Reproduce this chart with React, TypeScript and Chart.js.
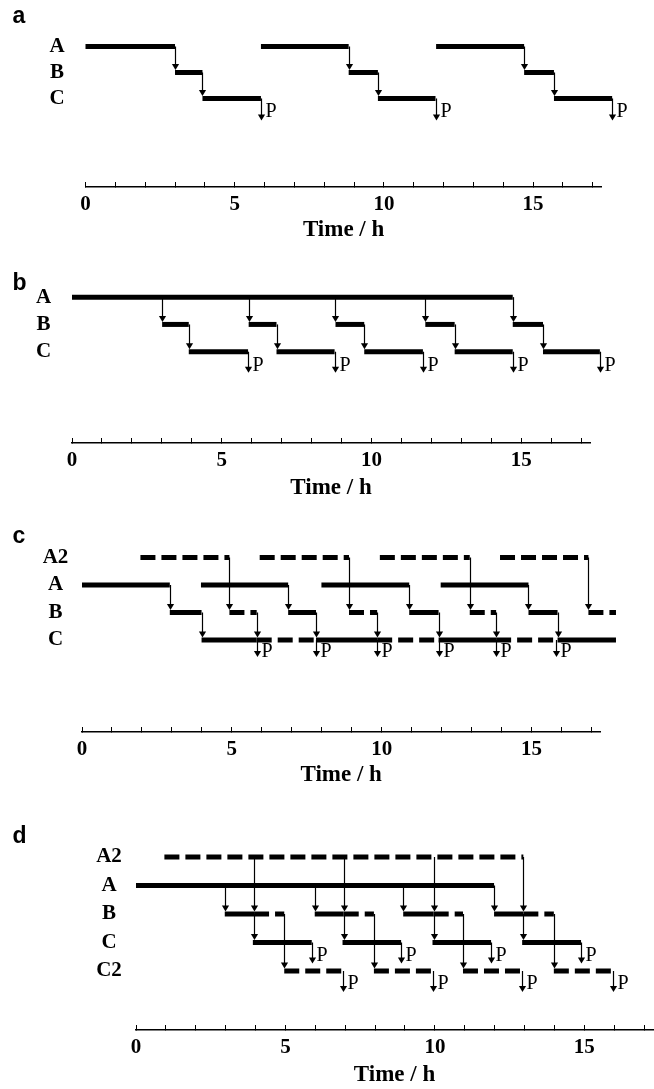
import React, { useEffect, useRef } from 'react';
import { Chart, registerables } from 'chart.js';

Chart.register(...registerables);

// ---------------- data (hours) ----------------
const TIME_TICKS = [0, 1, 2, 3, 4, 5, 6, 7, 8, 9, 10, 11, 12, 13, 14, 15, 16, 17];
const TIME_TICK_LABELS = ['0', '', '', '', '', '5', '', '', '', '', '10', '', '', '', '', '15', '', ''];
const TIME_MAX = 17.3;
const AXIS_TITLE = 'Time / h';

// panel a
const A_ROWS = ['A', 'B', 'C'];
const A_STEP_A = [[0, 3.0], [5.88, 8.82], [11.75, 14.7]];
const A_STEP_B = [[3.0, 3.92], [8.82, 9.8], [14.7, 15.7]];
const A_STEP_C = [[3.92, 5.88], [9.8, 11.73], [15.7, 17.65]];
const A_ARROWS_AB = [3.0, 8.82, 14.7];
const A_ARROWS_BC = [3.92, 9.8, 15.7];
const A_PRODUCT = [5.88, 11.73, 17.65];

// panel b
const B_ROWS = ['A', 'B', 'C'];
const B_STEP_A = [[0, 14.72]];
const B_STEP_B = [[3.01, 3.9], [5.9, 6.83], [8.8, 9.76], [11.8, 12.78], [14.72, 15.73]];
const B_STEP_C = [[3.9, 5.88], [6.83, 8.77], [9.76, 11.72], [12.78, 14.72], [15.73, 17.63]];
const B_ARROWS_AB = [3.01, 5.9, 8.8, 11.8, 14.72];
const B_ARROWS_BC = [3.9, 6.83, 9.76, 12.78, 15.73];
const B_PRODUCT = [5.88, 8.77, 11.72, 14.72, 17.63];

// panel c
const C_ROWS = ['A2', 'A', 'B', 'C'];
const C_STEP_A2 = [[1.95, 4.92], [5.93, 8.91], [9.94, 12.94], [13.95, 16.9]];
const C_STEP_A = [[0, 2.93], [3.97, 6.88], [7.99, 10.92], [11.97, 14.9]];
const C_STEP_B = [[2.93, 3.99], [6.88, 7.81], [10.92, 11.9], [14.9, 15.87]];
const C_STEP_B2 = [[4.92, 5.83], [8.91, 9.85], [12.94, 13.82], [16.9, 17.82]];
const C_STEP_C = [[3.99, 5.83], [7.81, 9.85], [11.9, 13.82], [15.87, 17.82]];
const C_STEP_C2 = [[5.83, 7.81], [9.85, 11.9], [13.82, 15.87]];
const C_ARROWS_AB = [2.93, 6.88, 10.92, 14.9];
const C_ARROWS_A2B = [4.92, 8.91, 12.94, 16.9];
const C_ARROWS_BC = [3.99, 5.83, 7.81, 9.85, 11.9, 13.82, 15.87];
const C_PRODUCT = [5.83, 7.81, 9.85, 11.9, 13.82, 15.82];

// panel d
const D_ROWS = ['A2', 'A', 'B', 'C', 'C2'];
const D_STEP_A2 = [[0.95, 12.96]];
const D_STEP_A = [[0, 11.98]];
const D_STEP_B = [[2.97, 3.95], [5.98, 6.95], [8.94, 9.96], [11.98, 12.96]];
const D_STEP_B2 = [[3.95, 4.96], [6.95, 7.96], [9.96, 10.94], [12.96, 13.98]];
const D_STEP_C = [[3.91, 5.88], [6.91, 8.87], [9.92, 11.88], [12.92, 14.89]];
const D_STEP_C2 = [[4.96, 6.91], [7.96, 9.93], [10.94, 12.92], [13.98, 15.96]];
const D_ARROWS_AB = [2.97, 5.98, 8.94, 11.98];
const D_ARROWS_A2B = [3.95, 6.95, 9.96, 12.96];
const D_ARROWS_BC = [3.95, 6.95, 9.96, 12.96];
const D_ARROWS_BC2 = [4.96, 7.96, 10.94, 13.98];
const D_PRODUCT_C = [5.88, 8.87, 11.88, 14.89];
const D_PRODUCT_C2 = [6.91, 9.93, 12.92, 15.96];

// ---------------- styles / layout ----------------
const SERIF = '"Liberation Serif", "Times New Roman", serif';
const SANS = '"Liberation Sans", Arial, sans-serif';
const BAR_W = 5;
const DASH = [15, 6];
const AXIS_H = 58;
const Y_AXIS_W = 40;
const PAGE_W = 654;
const ROW_FONT = 21;
const TICK_FONT = 21;
const TITLE_FONT = 23;

type Bar = { row: number; segs: number[][]; dashed?: boolean };
type Arrow = { xs: number[]; from: number; to: number };
type Prod = { xs: number[]; row: number };
type Spec = {
  letter: string;
  rows: string[];
  bars: Bar[];
  arrows: Arrow[];
  products: Prod[];
  L: {
    top: number; x0: number; x1: number; lane0: number; gap: number; axisY: number;
    labelPad: number; pTip: number; pText: number; letterTop: number; titleOff: number;
  };
};

const SPECS: Spec[] = [
  {
    letter: 'a',
    rows: A_ROWS,
    bars: [
      { row: 0, segs: A_STEP_A },
      { row: 1, segs: A_STEP_B },
      { row: 2, segs: A_STEP_C },
    ],
    arrows: [
      { xs: A_ARROWS_AB, from: 0, to: 1 },
      { xs: A_ARROWS_BC, from: 1, to: 2 },
    ],
    products: [{ xs: A_PRODUCT, row: 2 }],
    L: { top: 0, x0: 85.5, x1: 601.7, lane0: 41, gap: 27, axisY: 187, labelPad: 20.9, pTip: 22, pText: 13, letterTop: 3.8, titleOff: 43.5 },
  },
  {
    letter: 'b',
    rows: B_ROWS,
    bars: [
      { row: 0, segs: B_STEP_A },
      { row: 1, segs: B_STEP_B },
      { row: 2, segs: B_STEP_C },
    ],
    arrows: [
      { xs: B_ARROWS_AB, from: 0, to: 1 },
      { xs: B_ARROWS_BC, from: 1, to: 2 },
    ],
    products: [{ xs: B_PRODUCT, row: 2 }],
    L: { top: 250, x0: 72, x1: 590, lane0: 296, gap: 27.5, axisY: 443, labelPad: 20.9, pTip: 21, pText: 14, letterTop: 270.5, titleOff: 45 },
  },
  {
    letter: 'c',
    rows: C_ROWS,
    bars: [
      { row: 0, segs: C_STEP_A2, dashed: true },
      { row: 1, segs: C_STEP_A },
      { row: 2, segs: C_STEP_B },
      { row: 2, segs: C_STEP_B2, dashed: true },
      { row: 3, segs: C_STEP_C },
      { row: 3, segs: C_STEP_C2, dashed: true },
    ],
    arrows: [
      { xs: C_ARROWS_AB, from: 1, to: 2 },
      { xs: C_ARROWS_A2B, from: 0, to: 2 },
      { xs: C_ARROWS_BC, from: 2, to: 3 },
    ],
    products: [{ xs: C_PRODUCT, row: 3 }],
    L: { top: 505, x0: 82, x1: 600.4, lane0: 557.5, gap: 27.5, axisY: 732, labelPad: 13.7, pTip: 17, pText: 12, letterTop: 523.8, titleOff: 43.5 },
  },
  {
    letter: 'd',
    rows: D_ROWS,
    bars: [
      { row: 0, segs: D_STEP_A2, dashed: true },
      { row: 1, segs: D_STEP_A },
      { row: 2, segs: D_STEP_B },
      { row: 2, segs: D_STEP_B2, dashed: true },
      { row: 3, segs: D_STEP_C },
      { row: 4, segs: D_STEP_C2, dashed: true },
    ],
    arrows: [
      { xs: D_ARROWS_AB, from: 1, to: 2 },
      { xs: D_ARROWS_A2B, from: 0, to: 2 },
      { xs: D_ARROWS_BC, from: 2, to: 3 },
      { xs: D_ARROWS_BC2, from: 2, to: 4 },
    ],
    products: [
      { xs: D_PRODUCT_C, row: 3 },
      { xs: D_PRODUCT_C2, row: 4 },
    ],
    L: { top: 800, x0: 136, x1: 654, lane0: 857, gap: 28.5, axisY: 1030, labelPad: 14.2, pTip: 21, pText: 13, letterTop: 823.8, titleOff: 45 },
  },
];

function canvasHeight(s: Spec) {
  return s.L.axisY + AXIS_H - s.L.top;
}

function buildConfig(spec: Spec): any {
  const L = spec.L;
  const datasets: any[] = [];
  spec.bars.forEach((b) => {
    b.segs.forEach(([s, e]) => {
      datasets.push({
        data: [{ x: s, y: b.row }, { x: e, y: b.row }],
        borderColor: '#000',
        backgroundColor: '#000',
        borderWidth: BAR_W,
        borderDash: b.dashed ? DASH : [],
        borderCapStyle: 'butt',
        pointRadius: 0,
        pointHoverRadius: 0,
        tension: 0,
        fill: false,
        clip: false,
      });
    });
  });

  const flowPlugin = {
    id: 'flowArrows',
    afterDatasetsDraw(chart: any) {
      const { ctx } = chart;
      const xs = chart.scales.x;
      const ys = chart.scales.y;
      const HEAD_H = 6;
      const HEAD_W = 3.6;
      ctx.save();
      ctx.strokeStyle = '#000';
      ctx.fillStyle = '#000';
      ctx.lineWidth = 1.2;
      const arrow = (px: number, y1: number, tip: number) => {
        ctx.beginPath();
        ctx.moveTo(px, y1);
        ctx.lineTo(px, tip - HEAD_H + 1);
        ctx.stroke();
        ctx.beginPath();
        ctx.moveTo(px - HEAD_W, tip - HEAD_H);
        ctx.lineTo(px + HEAD_W, tip - HEAD_H);
        ctx.lineTo(px, tip);
        ctx.closePath();
        ctx.fill();
      };
      spec.arrows.forEach((a) => {
        a.xs.forEach((t) => {
          const px = Math.round(xs.getPixelForValue(t)) + 0.5;
          const y1 = ys.getPixelForValue(a.from);
          const tip = ys.getPixelForValue(a.to) - BAR_W / 2;
          arrow(px, y1, tip);
        });
      });
      ctx.font = `normal 20px ${SERIF}`;
      ctx.textAlign = 'left';
      ctx.textBaseline = 'middle';
      spec.products.forEach((p) => {
        p.xs.forEach((t) => {
          const px = Math.round(xs.getPixelForValue(t)) + 0.5;
          const yl = ys.getPixelForValue(p.row);
          arrow(px, yl, yl + L.pTip);
          ctx.fillText('P', px + 4, yl + L.pText);
        });
      });
      ctx.restore();
    },
  };

  const chartTop = L.lane0 - 0.5 * L.gap - L.top;
  const yMax = (L.axisY - L.lane0) / L.gap;
  const titlePadBottom = AXIS_H - L.titleOff - (TITLE_FONT * 1.2) / 2;
  const tickPad = 17.5 + 5 - (TICK_FONT * 1.2) / 2;

  return {
    type: 'line',
    data: { datasets },
    plugins: [flowPlugin],
    options: {
      responsive: false,
      animation: false,
      events: [],
      layout: {
        autoPadding: false,
        padding: { left: L.x0 - Y_AXIS_W, right: PAGE_W - L.x1, top: chartTop, bottom: 0 },
      },
      plugins: { legend: { display: false }, tooltip: { enabled: false }, title: { display: false } },
      scales: {
        x: {
          type: 'linear',
          min: 0,
          max: TIME_MAX,
          afterBuildTicks: (s: any) => {
            s.ticks = TIME_TICKS.map((v) => ({ value: v }));
          },
          afterFit: (s: any) => {
            s.height = AXIS_H;
          },
          grid: { display: true, drawOnChartArea: false, drawTicks: true, tickLength: -5, color: '#000', lineWidth: 1 },
          border: { display: true, color: '#000', width: 1.5 },
          ticks: {
            autoSkip: false,
            maxRotation: 0,
            minRotation: 0,
            padding: tickPad,
            color: '#000',
            font: { family: SERIF, weight: 'bold', size: TICK_FONT },
            callback: (_v: any, i: number) => TIME_TICK_LABELS[i],
          },
          title: {
            display: true,
            text: AXIS_TITLE,
            color: '#000',
            font: { family: SERIF, weight: 'bold', size: TITLE_FONT },
            padding: { top: 0, bottom: titlePadBottom },
          },
        },
        y: {
          type: 'linear',
          reverse: true,
          min: -0.5,
          max: yMax,
          afterBuildTicks: (s: any) => {
            s.ticks = spec.rows.map((_r, i) => ({ value: i }));
          },
          afterFit: (s: any) => {
            s.width = Y_AXIS_W;
          },
          grid: { display: false, drawTicks: false },
          border: { display: false },
          ticks: {
            autoSkip: false,
            crossAlign: 'center',
            padding: L.labelPad,
            color: '#000',
            font: { family: SERIF, weight: 'bold', size: ROW_FONT },
            callback: (v: any) => spec.rows[Math.round(Number(v))] ?? '',
          },
        },
      },
    },
  };
}

function Panel({ spec }: { spec: Spec }) {
  const ref = useRef<HTMLCanvasElement | null>(null);
  const h = canvasHeight(spec);
  useEffect(() => {
    if (!ref.current) return;
    const chart = new Chart(ref.current, buildConfig(spec));
    return () => chart.destroy();
  }, [spec]);
  return (
    <>
      <canvas
        ref={ref}
        width={PAGE_W}
        height={h}
        style={{ position: 'absolute', left: 0, top: spec.L.top, width: PAGE_W, height: h, display: 'block' }}
      />
      <div
        style={{
          position: 'absolute',
          left: 12.5,
          top: spec.L.letterTop,
          font: `bold 23px ${SANS}`,
          lineHeight: '23px',
          color: '#000',
        }}
      >
        {spec.letter}
      </div>
    </>
  );
}

export default function App() {
  return (
    <div
      style={{
        position: 'absolute',
        left: 0,
        top: 0,
        width: PAGE_W,
        height: 1089,
        overflow: 'hidden',
        background: '#fff',
      }}
    >
      {SPECS.map((s) => (
        <Panel key={s.letter} spec={s} />
      ))}
    </div>
  );
}
